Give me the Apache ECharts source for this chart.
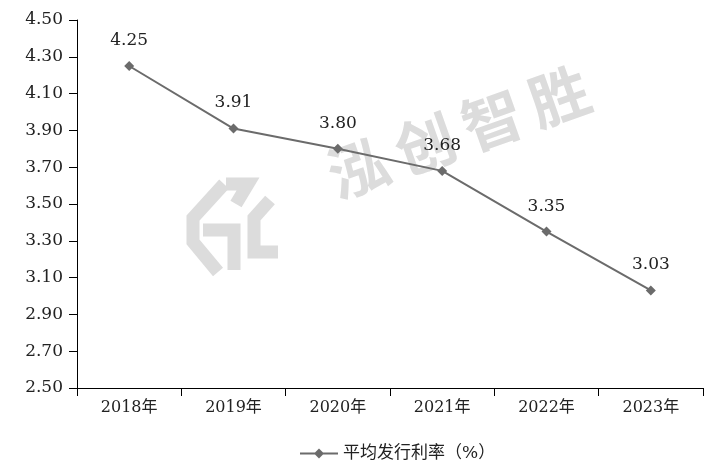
<!DOCTYPE html>
<html>
<head>
<meta charset="utf-8">
<script src="https://cdn.jsdelivr.net/npm/echarts@6/dist/echarts.min.js"></script>
<style>
  html, body { margin: 0; padding: 0; background: #fff; }
  #chart { width: 709px; height: 473px; }
</style>
</head>
<body>
<div id="chart"></div>
<script>
const years = ['2018年', '2019年', '2020年', '2021年', '2022年', '2023年']
const rates = [4.25, 3.91, 3.80, 3.68, 3.35, 3.03]
const seriesName = '平均发行利率（%）'

const fontFam = '"DejaVu Serif", "Liberation Serif", "Noto Sans CJK SC", serif'
const wmColor = '#dcdcdc'
const chart = echarts.init(document.getElementById('chart'))

// 水印(文字 + 简化的logo)
const wmChars = ['泓', '创', '智', '胜']
const watermark = wmChars.map((c, i) => ({
  type: 'text',
  x: 330 + i * 67,
  y: 178 - i * 24,
  rotation: 0.34,
  style: {
    text: c,
    font: 'bold 60px "Noto Sans CJK SC"',
    fill: wmColor,
    align: 'left',
    verticalAlign: 'middle'
  },
  z: -1
}))
const logoLines = [
  [[224, 184], [193, 218], [193, 242], [218, 272]],
  [[203, 230], [234, 230], [234, 270]],
  [[226, 184], [248, 184], [236, 204]],
  [[270, 200], [254, 218], [254, 252], [278, 252]]
]
logoLines.forEach(pts => {
  watermark.push({
    type: 'polyline',
    shape: { points: pts },
    style: { stroke: wmColor, lineWidth: 13, fill: null, lineJoin: 'miter' },
    z: -1
  })
})

const option = {
  backgroundColor: '#fff',
  animation: false,
  grid: { left: 77, right: 6, top: 20, bottom: 85 },
  graphic: watermark,
  legend: {
    bottom: 6,
    left: 295,
    icon: 'path://M0,4 L15,4 L19,0 L23,4 L38,4 L38,6 L23,6 L19,10 L15,6 L0,6 Z',
    itemWidth: 38,
    itemHeight: 10,
    itemGap: 6,
    textStyle: { fontFamily: fontFam, fontSize: 17, color: '#222' },
    data: [seriesName]
  },
  xAxis: {
    type: 'category',
    data: years,
    boundaryGap: true,
    axisLine: { lineStyle: { color: '#000', width: 1 } },
    axisTick: { show: true, length: 8, lineStyle: { color: '#000' } },
    axisLabel: { fontFamily: fontFam, fontSize: 16, color: '#222', margin: 12 }
  },
  yAxis: {
    type: 'value',
    min: 2.5,
    max: 4.5,
    interval: 0.2,
    axisLine: { show: true, lineStyle: { color: '#000', width: 1 } },
    axisTick: { show: true, length: 8, lineStyle: { color: '#000' } },
    splitLine: { show: false },
    axisLabel: {
      fontFamily: fontFam, fontSize: 17, color: '#222', margin: 14,
      formatter: v => v.toFixed(2)
    }
  },
  series: [
    {
      name: seriesName,
      type: 'line',
      data: rates,
      symbol: 'diamond',
      symbolSize: 10,
      lineStyle: { color: '#6b6b6b', width: 2 },
      itemStyle: { color: '#6b6b6b' },
      label: {
        show: true,
        position: 'top',
        distance: 12,
        fontFamily: fontFam,
        fontSize: 17,
        color: '#222',
        formatter: p => p.value.toFixed(2)
      }
    }
  ]
}

chart.setOption(option)
</script>
</body>
</html>
